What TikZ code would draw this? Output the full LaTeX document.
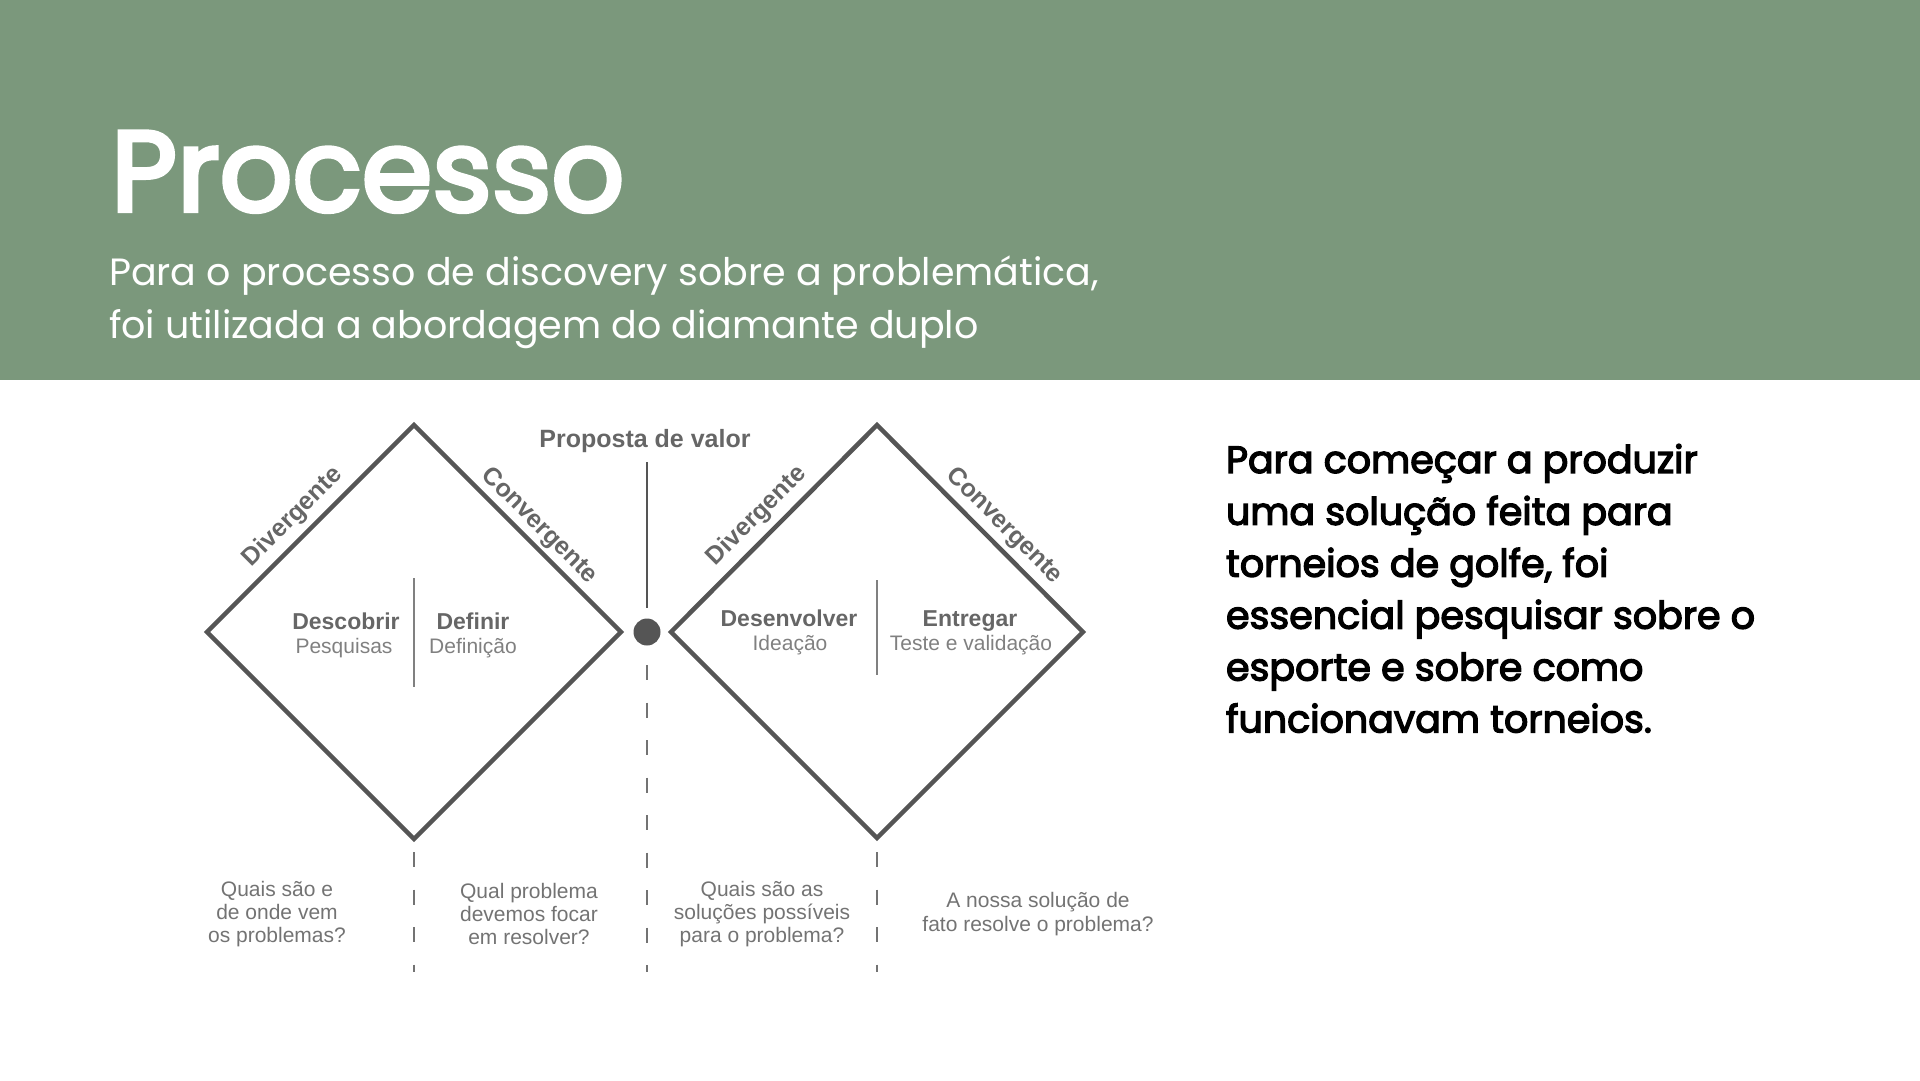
\documentclass[tikz,border=0pt]{standalone}
\usepackage{fontspec}
\setmainfont{Liberation Sans}
\newfontfamily\poppins{Poppins}
\newfontfamily\poppinsmid{Poppins}[FakeBold=3.8]
\newfontfamily\poppinssemi{Poppins}[FakeBold=3.4]
\usetikzlibrary{positioning}
\definecolor{sage}{RGB}{123,152,124}
\definecolor{ink}{RGB}{85,85,85}
\definecolor{labelgray}{RGB}{102,102,102}
\definecolor{subgray}{RGB}{128,128,128}
\definecolor{askgray}{RGB}{115,115,115}

\begin{document}
\begin{tikzpicture}[x=1pt,y=-1pt,
    every node/.append style={inner sep=0pt, outer sep=0pt},
    diamond line/.style={draw=ink, line width=4.5pt, line join=miter},
    phase/.style={font=\fontsize{23}{23}\selectfont\bfseries, text=labelgray, anchor=base},
    method/.style={font=\fontsize{21}{21}\selectfont, text=subgray, anchor=base},
    mode/.style={font=\fontsize{25}{25}\selectfont\bfseries, text=labelgray},
    ask/.style={font=\fontsize{21}{23.3}\selectfont, text=askgray, align=center},
    split/.style={draw=subgray, line width=2pt},
    guide/.style={draw=askgray, line width=2pt, dash pattern=on 15pt off 22.5pt}]
\useasboundingbox (0,0) rectangle (1920,1080);
\fill[sage] (0,0) rectangle (1920,380);

\node[anchor=base west, text=white, font=\poppinsmid\fontsize{114}{114}\selectfont] (title) at (111,211) {Processo};
\node[anchor=north west, text=white, align=left, font=\poppins\fontsize{38}{52.7}\selectfont] (subtitle) at (109,256)
    {Para o processo de discovery sobre a problemática,\\foi utilizada a abordagem do diamante duplo};

\coordinate (d1t) at (414,425);
\coordinate (d1r) at (621,632);
\coordinate (d1b) at (414,839);
\coordinate (d1l) at (207,632);
\coordinate (d2t) at (877,425);
\coordinate (d2r) at (1083,632);
\coordinate (d2b) at (877,838);
\coordinate (d2l) at (671,632);
\draw[diamond line] (d1t) -- (d1r) -- (d1b) -- (d1l) -- cycle;
\draw[diamond line] (d2t) -- (d2r) -- (d2b) -- (d2l) -- cycle;

\node[mode, rotate=45] (div1) at (293,517) {Divergente};
\node[mode, rotate=-45] (conv1) at (539,526) {Convergente};
\node[mode, rotate=45] (div2) at (757,516) {Divergente};
\node[mode, rotate=-45] (conv2) at (1004,526) {Convergente};

\coordinate (s1a) at (414,578);
\coordinate (s1b) at (414,687);
\coordinate (s2a) at (877,580);
\coordinate (s2b) at (877,675);
\draw[split] (s1a) -- (s1b);
\draw[split] (s2a) -- (s2b);

\node[phase] (descobrir) at (346,629) {Descobrir};
\node[method] (pesquisas) at (344,653) {Pesquisas};
\node[phase] (definir) at (473,629) {Definir};
\node[method] (definicao) at (473,653) {Definição};
\node[phase] (desenvolver) at (789,626) {Desenvolver};
\node[method] (ideacao) at (790,650) {Ideação};
\node[phase] (entregar) at (970,626) {Entregar};
\node[method] (teste) at (971,650) {Teste e validação};

\node[phase, font=\fontsize{25}{25}\selectfont\bfseries] (proposta) at (645,447) {Proposta de valor};
\node[circle, fill=ink, minimum size=27pt] (dot) at (647,632) {};
\coordinate (pvtop) at (647,462);
\coordinate (pvbot) at (647,608);
\draw[draw=ink, line width=2.5pt] (pvtop) -- (pvbot);

\coordinate (g0a) at (647,665);
\coordinate (g0b) at (647,972);
\coordinate (g1a) at (414,852);
\coordinate (g1b) at (414,972);
\coordinate (g2a) at (877,852);
\coordinate (g2b) at (877,972);
\draw[guide] (g0a) -- (g0b);
\draw[guide] (g1a) -- (g1b);
\draw[guide] (g2a) -- (g2b);

\node[ask] (q1) at (277,914) {Quais são e\\de onde vem\\os problemas?};
\node[ask] (q2) at (529,914) {Qual problema\\devemos focar\\em resolver?};
\node[ask] (q3) at (762,914) {Quais são as\\soluções possíveis\\para o problema?};
\node[ask] (q4) at (1038,914) {A nossa solução de\\fato resolve o problema?};

\node[anchor=north west, align=left, text=black, font=\poppinssemi\fontsize{38}{51.9}\selectfont] (intro) at (1226,444)
    {Para começar a produzir\\uma solução feita para\\torneios de golfe, foi\\essencial pesquisar sobre o\\esporte e sobre como\\funcionavam torneios.};
\end{tikzpicture}
\end{document}
